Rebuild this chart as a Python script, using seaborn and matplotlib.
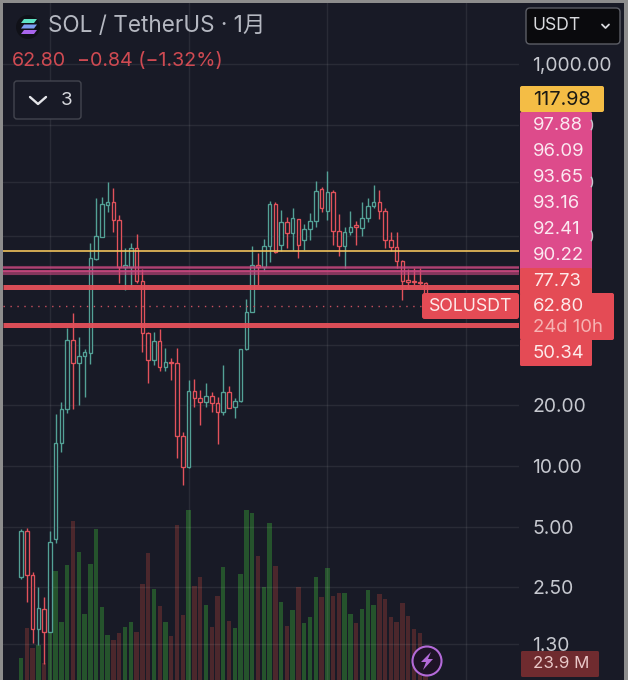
import numpy as np
import pandas as pd
import matplotlib
matplotlib.use("Agg")
import matplotlib.pyplot as plt
from matplotlib.patches import FancyBboxPatch, Polygon, Circle, Rectangle, Arc
import seaborn as sns

# monthly candles, SOL / USDT
opens = [2.80, 4.75, 2.87, 1.55, 1.94, 1.49, 4.33, 13.0, 19.2, 42.3, 32.5, 35.2, 36.5, 107.2, 137.8, 198.8, 205.7, 167.4,
         97.8, 97.8, 121.5, 83.3, 45.9, 33.7, 41.9, 31.1, 32.9, 32.5, 14.1, 9.88, 23.6, 21.8, 20.8, 22.3, 20.6, 18.55,
         23.3, 19.65, 21.05, 38.2, 58.4, 100.0, 97.8, 124.3, 201.1, 125.7, 163.6, 144.3, 169.3, 133.2, 151.0, 165.5,
         238.8, 185.6, 230.7, 147.6, 124.3, 145.9, 158.1, 152.8, 171.3, 196.5, 205.7, 185.6, 133.2, 122.9, 104.7, 84.2,
         83.3, 82.3, 81.4]
highs = [4.86, 4.91, 2.97, 2.50, 2.23, 4.75, 18.1, 20.8, 48.6, 57.7, 43.8, 38.2, 128.7, 215.4, 217.9, 258.8, 241.6, 177.3,
         121.5, 128.7, 142.6, 95.6, 46.4, 46.4, 48.0, 38.6, 34.4, 38.6, 14.75, 26.8, 27.1, 23.9, 25.9, 23.3, 22.0, 31.8,
         25.0, 21.8, 38.2, 67.8, 124.3, 114.8, 134.7, 208.1, 205.7, 187.7, 173.3, 192.1, 169.3, 159.9, 181.4, 261.7,
         244.3, 293.5, 236.1, 179.3, 154.5, 185.6, 165.5, 205.7, 215.4, 250.0, 236.1, 192.1, 145.9, 145.9, 105.9, 95.6,
         96.7, 96.7, 82.3]
lows = [2.74, 2.11, 1.32, 1.29, 1.03, 1.49, 4.14, 11.73, 18.3, 19.2, 20.1, 22.0, 32.2, 105.9, 137.8, 183.4, 145.9, 81.4,
        75.1, 77.7, 81.4, 36.9, 25.9, 31.8, 29.7, 29.7, 26.8, 10.95, 8.04, 9.77, 19.65, 16.0, 19.65, 18.55, 12.86, 17.9,
        19.4, 17.3, 20.8, 37.7, 58.4, 79.5, 93.4, 103.5, 114.8, 117.4, 121.5, 118.8, 108.4, 118.8, 133.2, 154.5,
        183.4, 167.4, 125.7, 110.9, 96.7, 141.0, 125.7, 139.4, 163.6, 192.1, 169.3, 121.5, 117.4, 96.7, 67.0, 76.9,
        79.5, 79.5, 62.8]
closes = [4.75, 2.87, 1.55, 1.96, 1.49, 4.18, 13.0, 19.2, 42.3, 32.5, 35.2, 36.9, 108.4, 139.4, 201.1, 205.7, 167.4, 97.8,
          100.0, 121.5, 83.3, 45.9, 33.7, 41.9, 31.1, 32.9, 32.5, 14.1, 9.88, 23.6, 21.8, 20.8, 22.3, 20.6, 18.55, 23.3,
          19.4, 21.05, 38.2, 58.4, 100.0, 97.8, 124.3, 201.1, 116.1, 163.6, 144.3, 171.3, 125.7, 151.0, 165.5, 233.4,
          192.1, 230.7, 147.6, 124.3, 145.9, 154.5, 154.5, 171.3, 196.5, 205.7, 185.6, 133.2, 122.9, 104.7, 83.3, 82.3,
          82.3, 81.4, 62.8]
volumes = [15.4, 36.4, 22.4, 24.5, 11.9, 32.9, 76.3, 40.6, 80.5, 111.3, 89.6, 46.2, 81.2, 105.7, 51.1, 31.5, 28.0, 32.9,
           37.1, 40.6, 33.6, 67.2, 88.9, 63.7, 51.8, 40.6, 30.8, 108.5, 45.5, 119.0, 65.8, 72.1, 52.5, 37.1, 58.8, 79.1,
           41.3, 36.4, 74.2, 119.0, 116.9, 86.8, 65.1, 109.9, 79.8, 54.6, 37.8, 49.0, 65.1, 39.9, 44.1, 72.1, 58.1, 78.4,
           58.8, 60.9, 60.9, 46.2, 39.9, 49.7, 63.0, 52.5, 60.2, 56.7, 44.1, 40.6, 53.9, 44.8, 35.7, 32.9, 23.9]

price_ticks = [1000, 500, 260, 140, 40, 20, 10, 5, 2.5, 1.3]
# 500, 250, 140 and 40 sit behind the price tags, so only their gridlines show
price_tick_labels = ["1,000.00", "", "", "", "", "20.00", "10.00", "5.00", "2.50", "1.30"]
year_ticks = [5, 29, 53, 77]
yellow_level = 117.98
pink_levels = [97.88, 96.09, 93.65, 93.16, 92.41, 90.22]
red_levels = [77.73, 50.34]
last_price = 62.80

BG = "#181a26"
GREEN = "#53a196"
RED = "#e2525b"
FONT = ["Inter", "Noto Sans CJK SC", "DejaVu Sans"]

df = pd.DataFrame({"idx": np.arange(len(opens)), "open": opens, "high": highs, "low": lows, "close": closes,
                   "volume": volumes})
df["direction"] = np.where(df["close"] >= df["open"], "up", "down")

sns.set_theme(style="dark", rc={"figure.facecolor": BG, "axes.facecolor": BG})
plt.rcParams["font.family"] = FONT

fig = plt.figure(figsize=(6.28, 6.80), dpi=100)
rect = [3 / 628, 0, 516 / 628, 677 / 680]

# volume sits at the back
ax_vol = fig.add_axes(rect, zorder=1)
sns.barplot(data=df, x="idx", y="volume", hue="direction", palette={"up": "#25532c", "down": "#4b272c"},
            native_scale=True, dodge=False, legend=False, width=0.76, saturation=1, linewidth=0, ax=ax_vol)
ax_vol.set_xlim(-3.11, 86.16)
ax_vol.set_ylim(0, 473.9)
ax_vol.set_xlabel("")
ax_vol.set_ylabel("")
ax_vol.set_xticks([])
ax_vol.set_yticks([])
for s in ax_vol.spines.values():
    s.set_visible(False)

# candles on log scale in front
ax = fig.add_axes(rect, zorder=2)
ax.patch.set_alpha(0)
ax.set_yscale("log")
ax.set_xlim(-3.11, 86.16)
ax.set_ylim(0.8615, 2012)
ax.minorticks_off()
ax.set_yticks(price_ticks)
ax.set_yticklabels(price_tick_labels)
ax.yaxis.tick_right()
ax.set_xticks(year_ticks)
ax.set_xticklabels([])
ax.tick_params(axis="y", length=0, pad=9.5, labelsize=13.9, labelcolor="#c6c8cf")
ax.tick_params(axis="x", length=0)
for lab in ax.get_yticklabels():
    lab.set_ha("left")
ax.grid(True, color="white", alpha=0.075, lw=1)
ax.set_axisbelow(True)
for s in ax.spines.values():
    s.set_visible(False)

cols = np.where(df["direction"] == "up", GREEN, RED)
ax.vlines(df["idx"], df["low"], df["high"], colors=cols, lw=1.0, zorder=3)
tops = df[["open", "close"]].max(axis=1)
bots = df[["open", "close"]].min(axis=1)
ax.bar(df["idx"], tops - bots, bottom=bots, width=0.62, facecolor=BG, edgecolor=cols, linewidth=0.95, zorder=4)

trans = ax.get_yaxis_transform()
ax.hlines(yellow_level, 0, 1, transform=trans, color="#f1c35c", lw=1.2, zorder=5)
ax.hlines(pink_levels, 0, 1, transform=trans, color="#c9487f", lw=1.5, alpha=0.62, zorder=5)
ax.hlines(red_levels, 0, 1, transform=trans, color="#e5505a", lw=3.6, alpha=0.95, zorder=5)
ax.hlines(last_price, 0, 0.81, transform=trans, color="#c8505f", lw=1.0, linestyles=(0, (1, 4)), zorder=5)

# overlay in pixel coordinates for the app chrome
ui = fig.add_axes([0, 0, 1, 1], zorder=5)
ui.set_xlim(0, 628)
ui.set_ylim(680, 0)
ui.axis("off")
ui.patch.set_alpha(0)


def box(x0, y0, x1, y1, color, edge="none", r=1.5, lw=0):
    ui.add_patch(FancyBboxPatch((x0 + r, y0 + r), x1 - x0 - 2 * r, y1 - y0 - 2 * r,
                                boxstyle=f"round,pad={r},rounding_size={r}", fc=color, ec=edge, lw=lw))


box(520, 112, 592, 270, "#dd4b8b")
box(520, 268, 592, 295, "#e44b55")
box(520, 339, 592, 366, "#e44b55")
box(520, 293, 614, 340, "#e44b55", r=2)
box(422, 293, 519, 319, "#e44b55", r=2.5)
box(520, 86, 604, 112, "#f4bd45", r=2)
box(521, 651, 599, 677, "#6f2b2f", r=1.5)

# ends of the covered tick labels peeking out beside the pink tags
for y in [125, 182, 236]:
    ui.add_patch(Arc((590, y), 5, 11, theta1=-80, theta2=80, color="#c6c8cf", lw=1))

for val, y in zip(["97.88", "96.09", "93.65", "93.16", "92.41", "90.22"], [126, 152, 178, 203.5, 229.5, 255.5]):
    ui.text(533, y, val, color="#fbe9f1", fontsize=13.3, va="center", ha="left")
ui.text(533, 100, "117.98", color="#1c1a14", fontsize=14.3, va="center", ha="left")
ui.text(533, 281, "77.73", color="#fdeaea", fontsize=13.3, va="center", ha="left")
ui.text(533, 306.5, "62.80", color="#fdeaea", fontsize=13.3, va="center", ha="left")
ui.text(533, 328, "24d 10h", color="#f6b3b3", fontsize=13.3, va="center", ha="left")
ui.text(533, 354, "50.34", color="#fdeaea", fontsize=13.3, va="center", ha="left")
ui.text(470.5, 306.5, "SOLUSDT", color="#fdeaea", fontsize=12.8, va="center", ha="center")
ui.text(561, 664, "23.9 M", color="#e9c8c8", fontsize=12.2, va="center", ha="center")

# header
ui.text(48, 26, "SOL / TetherUS · 1月", color="#b5b8c1", fontsize=16.2, va="center", ha="left")
ui.text(12, 61, "62.80", color="#cf4a52", fontsize=14.2, va="center", ha="left")
ui.text(77, 61, "−0.84 (−1.32%)", color="#cf4a52", fontsize=14.2, va="center", ha="left")

ui.add_patch(Circle((28, 27), 12, fc="#101118", ec="none"))
for y, c in zip([21, 26.5, 32], ["#5fe3c4", "#7d9df0", "#a865ec"]):
    ui.add_patch(Polygon([(21, y + 2), (34, y + 2), (37, y - 2), (24, y - 2)], fc=c, ec="none"))

box(14, 81, 81, 119, BG, edge="#43454f", r=3, lw=1)
ui.plot([30, 38, 46], [97, 104, 97], color="#e4e5e9", lw=1.7)
ui.text(67, 100.5, "3", color="#d6d7dc", fontsize=13.5, va="center", ha="center")

box(526, 8, 620, 44, "#0a0a0d", edge="#5c5e66", r=4, lw=1)
ui.text(532, 26, "USDT", color="#d9dade", fontsize=12.6, va="center", ha="left")
ui.plot([602, 605.5, 609], [24.5, 28, 24.5], color="#d9dade", lw=1.3)

# lightning button
ui.add_patch(Circle((427, 661), 14.5, fc="#1e1327", ec="#b36ad9", lw=1.5))
ui.add_patch(Polygon([(431, 652), (421, 662), (426, 662), (423, 670), (433, 659), (428, 659)], fc="#b36ad9", ec="none"))

# grey screenshot edge
ui.add_patch(Rectangle((0, 0), 628, 3, fc="#8d8d8d", ec="none"))
ui.add_patch(Rectangle((0, 0), 3, 680, fc="#8d8d8d", ec="none"))
ui.add_patch(Rectangle((624, 0), 4, 680, fc="#8d8d8d", ec="none"))

fig.savefig("out.png", dpi=100, facecolor=BG)
